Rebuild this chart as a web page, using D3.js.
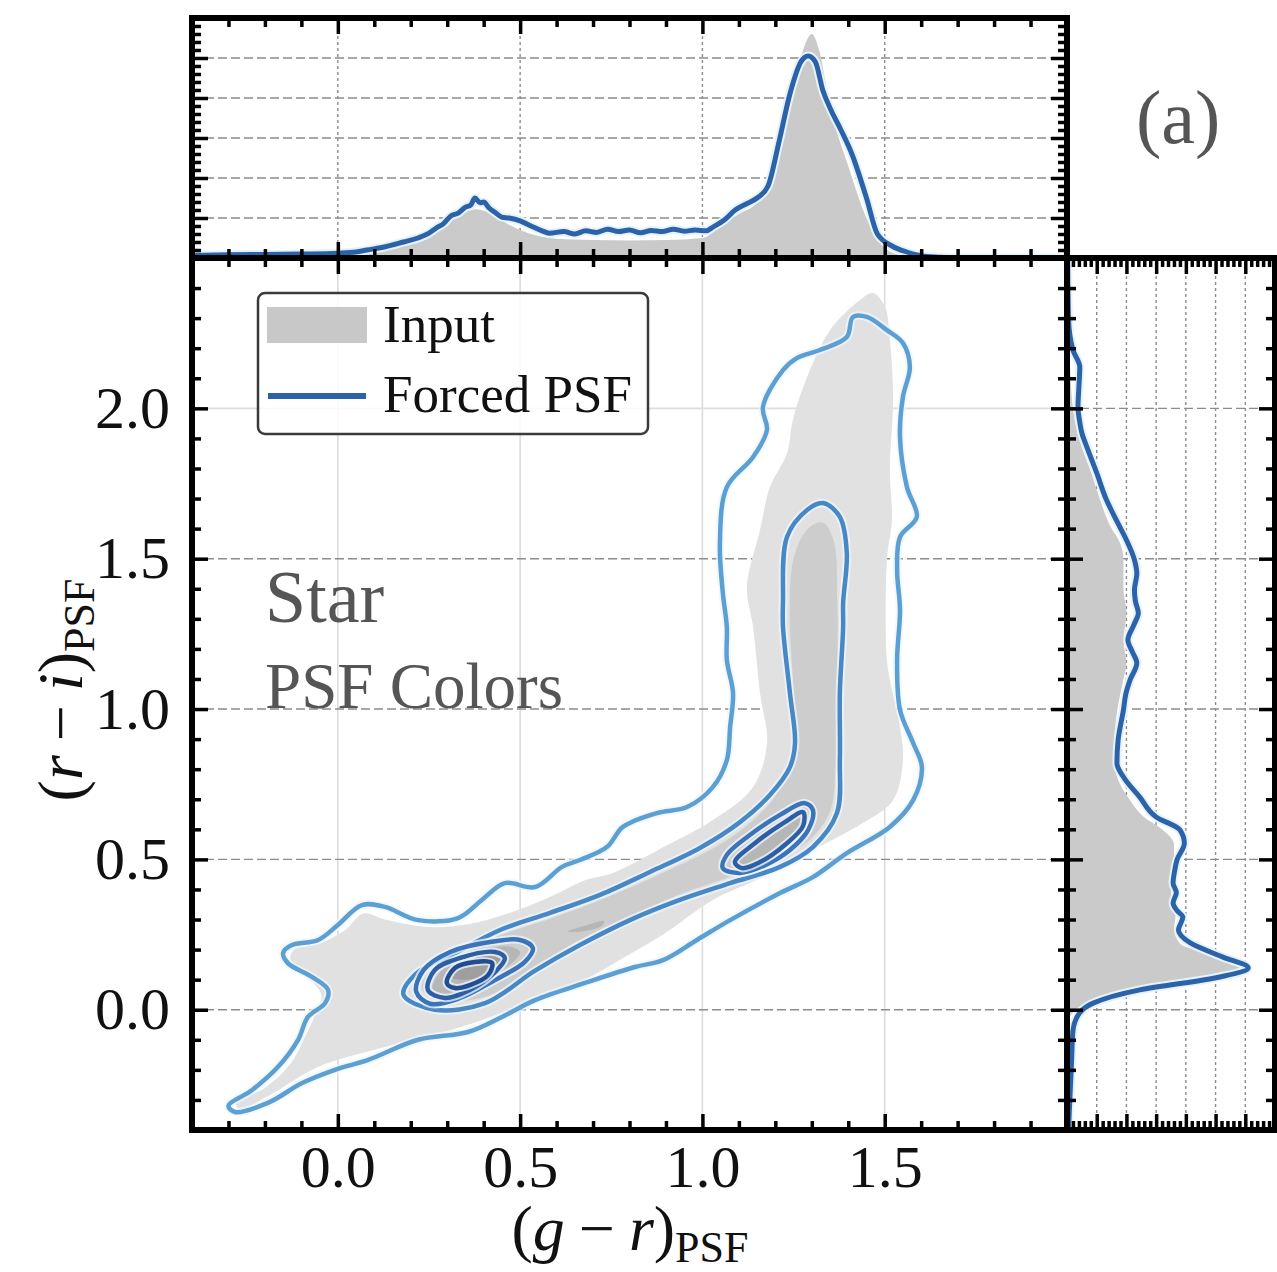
<!DOCTYPE html>
<html>
<head>
<meta charset="utf-8">
<script src="https://cdn.jsdelivr.net/npm/d3@7"></script>
<style>
  body { margin: 0; background: #fff; }
  svg { display: block; }
</style>
</head>
<body>
<div id="chart"></div>
<script>
// ---- data ----
var xMajor = [0.0, 0.5, 1.0, 1.5]
var yMajor = [0.0, 0.5, 1.0, 1.5, 2.0]
var xTickLabels = ["0.0", "0.5", "1.0", "1.5"]
var yTickLabels = ["0.0", "0.5", "1.0", "1.5", "2.0"]
var legendLabels = ["Input", "Forced PSF"]

// top marginal: (g-r) distribution
var topInputGr = [-0.4, -0.3, -0.2, -0.1, 0.0, 0.05, 0.1, 0.15, 0.2, 0.25, 0.3, 0.35, 0.38, 0.42, 0.46, 0.5, 0.55, 0.6, 0.7, 0.8, 0.9, 1.0, 1.05, 1.1, 1.15, 1.2, 1.25, 1.28, 1.3, 1.32, 1.35, 1.4, 1.45, 1.5, 1.55, 1.6, 1.7, 2.0]
var topInputDens = [0.01, 0.02, 0.04, 0.06, 0.08, 0.12, 0.18, 0.3, 0.45, 0.68, 0.95, 1.15, 1.22, 1.1, 0.88, 0.7, 0.55, 0.48, 0.45, 0.44, 0.45, 0.5, 0.8, 1.1, 1.4, 2.6, 4.3, 5.3, 5.6, 5.2, 3.8, 2.3, 1.0, 0.25, 0.06, 0.02, 0.0, 0.0]
var topForcedGr = [-0.4, -0.3, -0.2, -0.1, 0.0, 0.05, 0.08, 0.13, 0.18, 0.22, 0.25, 0.27, 0.29, 0.31, 0.33, 0.35, 0.365, 0.376, 0.39, 0.40, 0.415, 0.43, 0.45, 0.47, 0.5, 0.53, 0.56, 0.58, 0.62, 0.65, 0.68, 0.71, 0.74, 0.77, 0.8, 0.83, 0.86, 0.89, 0.92, 0.95, 0.98, 1.01, 1.03, 1.06, 1.09, 1.12, 1.15, 1.18, 1.21, 1.24, 1.27, 1.29, 1.31, 1.33, 1.35, 1.38, 1.41, 1.45, 1.48, 1.52, 1.56, 1.6, 1.65, 1.7, 2.0]
var topForcedDens = [0.06, 0.08, 0.09, 0.1, 0.12, 0.15, 0.2, 0.28, 0.4, 0.5, 0.62, 0.75, 0.86, 1.05, 1.12, 1.27, 1.33, 1.5, 1.38, 1.4, 1.25, 1.15, 1.02, 1.0, 0.93, 0.8, 0.68, 0.62, 0.66, 0.6, 0.68, 0.64, 0.72, 0.66, 0.7, 0.63, 0.69, 0.66, 0.72, 0.67, 0.7, 0.68, 0.78, 0.95, 1.2, 1.35, 1.5, 1.8, 2.9, 4.1, 4.9, 5.05, 4.9, 4.2, 3.75, 3.2, 2.6, 1.5, 0.6, 0.3, 0.15, 0.06, 0.02, 0.0, 0.0]

// right marginal: (r-i) distribution
var rightInputRi = [-0.4, -0.05, 0.0, 0.05, 0.1, 0.14, 0.18, 0.22, 0.27, 0.31, 0.36, 0.42, 0.5, 0.55, 0.6, 0.64, 0.7, 0.77, 0.82, 0.9, 1.0, 1.1, 1.15, 1.23, 1.32, 1.4, 1.5, 1.56, 1.6, 1.7, 1.79, 1.87, 1.92, 2.0, 2.14, 2.2, 2.3, 2.5]
var rightInputDens = [0.0, 0.0, 0.3, 1.5, 4.2, 5.9, 4.9, 3.8, 3.6, 3.65, 3.5, 3.5, 3.6, 3.6, 3.2, 2.6, 2.1, 1.7, 1.6, 1.6, 1.7, 1.9, 2.0, 1.9, 2.0, 1.9, 1.9, 1.75, 1.5, 1.1, 0.8, 0.5, 0.35, 0.2, 0.1, 0.05, 0.02, 0.0]
var rightForcedRi = [-0.4, -0.29, -0.18, -0.07, -0.01, 0.022, 0.066, 0.109, 0.139, 0.175, 0.222, 0.265, 0.308, 0.33, 0.355, 0.39, 0.421, 0.46, 0.498, 0.554, 0.598, 0.641, 0.707, 0.774, 0.82, 0.897, 0.997, 1.05, 1.096, 1.153, 1.19, 1.23, 1.28, 1.319, 1.36, 1.396, 1.45, 1.496, 1.562, 1.605, 1.65, 1.695, 1.785, 1.871, 1.918, 1.96, 2.004, 2.07, 2.137, 2.194, 2.3, 2.5]
var rightForcedDens = [0.05, 0.1, 0.15, 0.2, 0.43, 0.88, 2.45, 5.15, 6.1, 5.25, 4.15, 3.75, 3.9, 3.7, 3.57, 3.68, 3.57, 3.62, 3.7, 3.95, 3.8, 3.0, 2.45, 1.9, 1.68, 1.72, 1.9, 1.98, 2.12, 2.35, 2.2, 2.05, 2.25, 2.4, 2.3, 2.27, 2.35, 2.27, 2.0, 1.78, 1.55, 1.33, 1.0, 0.67, 0.5, 0.42, 0.37, 0.4, 0.43, 0.2, 0.05, 0.02]

// main panel: contour outlines, [g-r, r-i]
var inputLevel1 = [[-0.28,-0.31],[-0.2,-0.26],[-0.13,-0.18],[-0.09,-0.09],[-0.06,-0.01],[-0.045,0.05],[-0.085,0.11],[-0.13,0.165],[-0.12,0.2],[-0.05,0.22],[0.02,0.265],[0.07,0.32],[0.13,0.3],[0.25,0.275],[0.36,0.285],[0.49,0.33],[0.59,0.38],[0.678,0.431],[0.755,0.455],[0.892,0.54],[1.029,0.631],[1.139,0.741],[1.177,0.887],[1.158,1.053],[1.139,1.273],[1.122,1.406],[1.158,1.595],[1.185,1.738],[1.232,1.851],[1.248,1.961],[1.287,2.104],[1.35,2.26],[1.432,2.36],[1.468,2.384],[1.5,2.34],[1.514,2.23],[1.523,2.03],[1.514,1.795],[1.52,1.63],[1.506,1.496],[1.506,1.163],[1.542,0.94],[1.55,0.83],[1.523,0.697],[1.44,0.621],[1.303,0.531],[1.166,0.441],[1.029,0.365],[0.892,0.25],[0.78,0.17],[0.678,0.1],[0.494,0.009],[0.313,-0.067],[0.129,-0.124],[-0.054,-0.19],[-0.186,-0.284],[-0.27,-0.33]]
var inputLevel2 = [[0.23,0.07],[0.27,0.15],[0.35,0.2],[0.45,0.25],[0.6,0.31],[0.75,0.38],[0.9,0.46],[1.02,0.53],[1.12,0.61],[1.2,0.71],[1.25,0.83],[1.25,1.05],[1.24,1.3],[1.25,1.5],[1.29,1.6],[1.33,1.62],[1.36,1.56],[1.37,1.35],[1.37,1.05],[1.365,0.8],[1.35,0.66],[1.29,0.56],[1.2,0.5],[1.07,0.44],[0.93,0.38],[0.8,0.31],[0.66,0.23],[0.54,0.14],[0.42,0.05],[0.3,0.03]]
var inputLevel3 = [
  [[0.26,0.07],[0.3,0.15],[0.38,0.19],[0.47,0.21],[0.5,0.19],[0.45,0.13],[0.37,0.07],[0.3,0.05]],
  [[1.08,0.5],[1.15,0.57],[1.22,0.63],[1.28,0.67],[1.29,0.63],[1.24,0.56],[1.17,0.5],[1.11,0.47]],
  [[0.63,0.26],[0.68,0.28],[0.73,0.295],[0.725,0.28],[0.67,0.26]]
]
var inputLevel4 = [[0.31,0.11],[0.35,0.16],[0.42,0.18],[0.45,0.165],[0.41,0.12],[0.35,0.1]]

var forcedLevel1 = [[-0.30,-0.32],[-0.235,-0.267],[-0.164,-0.19],[-0.109,-0.10],[-0.082,-0.024],[-0.035,0.022],[-0.027,0.066],[-0.071,0.109],[-0.137,0.155],[-0.15,0.189],[-0.126,0.215],[-0.054,0.232],[0.0,0.282],[0.066,0.348],[0.129,0.342],[0.22,0.298],[0.33,0.305],[0.395,0.365],[0.458,0.421],[0.541,0.408],[0.615,0.475],[0.664,0.498],[0.738,0.541],[0.782,0.608],[0.875,0.654],[0.958,0.674],[1.029,0.741],[1.067,0.83],[1.076,0.94],[1.084,1.053],[1.067,1.163],[1.067,1.273],[1.056,1.386],[1.048,1.552],[1.067,1.738],[1.139,1.838],[1.177,1.928],[1.166,2.004],[1.221,2.127],[1.259,2.167],[1.322,2.194],[1.396,2.237],[1.413,2.304],[1.451,2.304],[1.506,2.26],[1.55,2.217],[1.569,2.137],[1.55,2.038],[1.542,1.905],[1.561,1.738],[1.588,1.639],[1.542,1.572],[1.534,1.462],[1.542,1.329],[1.534,1.163],[1.542,0.997],[1.578,0.887],[1.602,0.807],[1.578,0.697],[1.514,0.608],[1.396,0.521],[1.303,0.441],[1.213,0.388],[1.076,0.298],[0.985,0.232],[0.892,0.165],[0.815,0.142],[0.678,0.089],[0.541,0.032],[0.45,-0.024],[0.357,-0.074],[0.22,-0.10],[0.083,-0.167],[-0.008,-0.2],[-0.098,-0.244],[-0.192,-0.31],[-0.282,-0.34]]
var forcedLevel2 = [[0.18,0.05],[0.215,0.12],[0.313,0.182],[0.445,0.265],[0.582,0.322],[0.719,0.382],[0.856,0.458],[0.993,0.538],[1.103,0.624],[1.185,0.714],[1.24,0.807],[1.254,0.887],[1.24,1.053],[1.221,1.273],[1.221,1.353],[1.232,1.572],[1.287,1.662],[1.331,1.685],[1.377,1.639],[1.396,1.519],[1.386,1.353],[1.386,1.273],[1.377,1.053],[1.377,0.83],[1.369,0.654],[1.303,0.541],[1.213,0.475],[1.076,0.421],[0.938,0.365],[0.801,0.298],[0.664,0.215],[0.541,0.13],[0.404,0.022],[0.266,0.0]]
var forcedLevel3 = [
  [[0.215,0.06],[0.235,0.132],[0.308,0.192],[0.417,0.225],[0.5,0.232],[0.535,0.205],[0.513,0.159],[0.431,0.099],[0.335,0.039],[0.253,0.02]],
  [[1.056,0.471],[1.067,0.515],[1.13,0.581],[1.213,0.648],[1.281,0.687],[1.303,0.664],[1.29,0.598],[1.24,0.531],[1.172,0.481],[1.103,0.455]]
]
var forcedLevel4 = [
  [[0.247,0.066],[0.266,0.132],[0.335,0.172],[0.431,0.192],[0.458,0.172],[0.431,0.125],[0.362,0.066],[0.294,0.039]],
  [[1.089,0.491],[1.144,0.554],[1.226,0.624],[1.276,0.657],[1.276,0.611],[1.226,0.548],[1.158,0.491],[1.108,0.471]]
]
var forcedLevel5 = [[0.299,0.089],[0.321,0.139],[0.376,0.159],[0.423,0.155],[0.412,0.115],[0.362,0.082],[0.321,0.072]]

// ---- layout ----
var W = 1277, H = 1272
var main = { left: 192, right: 1067, top: 258, bottom: 1130 }
var topP = { top: 18, bottom: 258 }
var rightP = { left: 1067, right: 1275 }
var serif = "'Liberation Serif', 'Times New Roman', serif"
var blue = "#2c63a8"

var svg = d3.select("#chart").append("svg")
    .attr("width", W)
    .attr("height", H)

var x = d3.scaleLinear().domain([-0.4, 2.0]).range([main.left, main.right])
var y = d3.scaleLinear().domain([-0.4, 2.5]).range([main.bottom, main.top])
var topY = d3.scaleLinear().domain([0, 6]).range([topP.bottom, topP.top])
var rightX = d3.scaleLinear().domain([0, 7]).range([rightP.left, rightP.right])

var defs = svg.append("defs")
function clip(id, x0, y0, w, h) {
    defs.append("clipPath").attr("id", id)
        .append("rect").attr("x", x0).attr("y", y0).attr("width", w).attr("height", h)
}
clip("clip-main", main.left, main.top, main.right - main.left, main.bottom - main.top)
clip("clip-top", main.left, topP.top, main.right - main.left, topP.bottom - topP.top)
clip("clip-right", rightP.left, main.top, rightP.right - rightP.left, main.bottom - main.top)

// ---- grid lines ----
var darkGrid = { stroke: "#8c8c8c", width: 1.4, dash: "9,4" }
var grid = svg.append("g")

// main: light verticals, dashed horizontals (2.0 drawn light)
grid.selectAll(".vmain").data(xMajor).enter().append("line")
    .attr("x1", function(d){ return x(d) }).attr("x2", function(d){ return x(d) })
    .attr("y1", main.top).attr("y2", main.bottom)
    .attr("stroke", "#dcdcdc").attr("stroke-width", 1.6)
grid.selectAll(".hmain").data(yMajor).enter().append("line")
    .attr("x1", main.left).attr("x2", main.right)
    .attr("y1", function(d){ return y(d) }).attr("y2", function(d){ return y(d) })
    .attr("stroke", function(d){ return d === 2.0 ? "#dcdcdc" : darkGrid.stroke })
    .attr("stroke-width", function(d){ return d === 2.0 ? 1.6 : darkGrid.width })
    .attr("stroke-dasharray", function(d){ return d === 2.0 ? null : darkGrid.dash })

// top panel
grid.selectAll(".vtop").data(xMajor).enter().append("line")
    .attr("x1", function(d){ return x(d) }).attr("x2", function(d){ return x(d) })
    .attr("y1", topP.top).attr("y2", topP.bottom)
    .attr("stroke", darkGrid.stroke).attr("stroke-width", darkGrid.width).attr("stroke-dasharray", "3,3")
grid.selectAll(".htop").data([1, 2, 3, 4, 5]).enter().append("line")
    .attr("x1", main.left).attr("x2", main.right)
    .attr("y1", function(d){ return topY(d) }).attr("y2", function(d){ return topY(d) })
    .attr("stroke", darkGrid.stroke).attr("stroke-width", darkGrid.width).attr("stroke-dasharray", darkGrid.dash)

// right panel
grid.selectAll(".vright").data([1, 2, 3, 4, 5, 6]).enter().append("line")
    .attr("x1", function(d){ return rightX(d) }).attr("x2", function(d){ return rightX(d) })
    .attr("y1", main.top).attr("y2", main.bottom)
    .attr("stroke", darkGrid.stroke).attr("stroke-width", darkGrid.width).attr("stroke-dasharray", "3,3")
grid.selectAll(".hright").data(yMajor).enter().append("line")
    .attr("x1", rightP.left).attr("x2", rightP.right)
    .attr("y1", function(d){ return y(d) }).attr("y2", function(d){ return y(d) })
    .attr("stroke", darkGrid.stroke).attr("stroke-width", darkGrid.width).attr("stroke-dasharray", darkGrid.dash)

// ---- main panel contours ----
var contourLine = d3.line()
    .x(function(d){ return x(d[0]) })
    .y(function(d){ return y(d[1]) })
    .curve(d3.curveCatmullRomClosed.alpha(0.5))

var mainG = svg.append("g").attr("clip-path", "url(#clip-main)")

var fills = [
    { shapes: [inputLevel1], color: "#e1e1e1" },
    { shapes: [inputLevel2], color: "#cdcdcd" },
    { shapes: inputLevel3, color: "#b6b6b6" },
    { shapes: [inputLevel4], color: "#9f9f9f" }
]
fills.forEach(function(f){
    mainG.selectAll(null).data(f.shapes).enter().append("path")
        .attr("d", contourLine)
        .attr("fill", f.color)
        .attr("stroke", "none")
})

var lines = [
    { shapes: [forcedLevel1], color: "#5b9fd3" },
    { shapes: [forcedLevel2], color: "#4888c5" },
    { shapes: forcedLevel3, color: "#3b74b8" },
    { shapes: forcedLevel4, color: "#2d5fa5" },
    { shapes: [forcedLevel5], color: "#214d92" }
]
lines.forEach(function(l){
    // pale rim round each line, as in the picture
    mainG.selectAll(null).data(l.shapes).enter().append("path")
        .attr("d", contourLine)
        .attr("fill", "none")
        .attr("stroke", "#eef6fd")
        .attr("stroke-width", 8.5)
        .attr("stroke-opacity", 0.75)
    mainG.selectAll(null).data(l.shapes).enter().append("path")
        .attr("d", contourLine)
        .attr("fill", "none")
        .attr("stroke", l.color)
        .attr("stroke-width", 4.5)
        .attr("stroke-linejoin", "round")
})

// ---- top marginal ----
var topG = svg.append("g").attr("clip-path", "url(#clip-top)")
var topInput = topInputGr.map(function(d, i){ return [d, topInputDens[i]] })
var topForced = topForcedGr.map(function(d, i){ return [d, topForcedDens[i]] })

topG.append("path").datum(topInput)
    .attr("d", d3.area()
        .x(function(d){ return x(d[0]) })
        .y0(topY(0))
        .y1(function(d){ return topY(d[1]) })
        .curve(d3.curveMonotoneX))
    .attr("fill", "#cacaca")
var topLine = d3.line()
    .x(function(d){ return x(d[0]) })
    .y(function(d){ return topY(d[1]) })
    .curve(d3.curveMonotoneX)
topG.append("path").datum(topForced)
    .attr("d", topLine)
    .attr("fill", "none").attr("stroke", "#e6f3fc").attr("stroke-width", 9)
topG.append("path").datum(topForced)
    .attr("d", topLine)
    .attr("fill", "none").attr("stroke", blue).attr("stroke-width", 5)
    .attr("stroke-linejoin", "round")

// ---- right marginal ----
var rightG = svg.append("g").attr("clip-path", "url(#clip-right)")
var rightInput = rightInputRi.map(function(d, i){ return [d, rightInputDens[i]] })
var rightForced = rightForcedRi.map(function(d, i){ return [d, rightForcedDens[i]] })

rightG.append("path").datum(rightInput)
    .attr("d", d3.area()
        .y(function(d){ return y(d[0]) })
        .x0(rightX(0))
        .x1(function(d){ return rightX(d[1]) })
        .curve(d3.curveMonotoneY))
    .attr("fill", "#cacaca")
var rightLine = d3.line()
    .y(function(d){ return y(d[0]) })
    .x(function(d){ return rightX(d[1]) })
    .curve(d3.curveMonotoneY)
rightG.append("path").datum(rightForced)
    .attr("d", rightLine)
    .attr("fill", "none").attr("stroke", "#e6f3fc").attr("stroke-width", 9)
rightG.append("path").datum(rightForced)
    .attr("d", rightLine)
    .attr("fill", "none").attr("stroke", blue).attr("stroke-width", 5)
    .attr("stroke-linejoin", "round")

// ---- legend ----
var legend = svg.append("g")
legend.append("rect")
    .attr("x", 258).attr("y", 293).attr("width", 390).attr("height", 141)
    .attr("rx", 7)
    .attr("fill", "#fff").attr("fill-opacity", 0.85)
    .attr("stroke", "#3a3a3a").attr("stroke-width", 2.5)
legend.append("rect")
    .attr("x", 267).attr("y", 307).attr("width", 100).attr("height", 36)
    .attr("fill", "#c8c8c8")
legend.append("line")
    .attr("x1", 268).attr("x2", 366).attr("y1", 396).attr("y2", 396)
    .attr("stroke", blue).attr("stroke-width", 6)
legend.selectAll("text").data(legendLabels).enter().append("text")
    .attr("x", 383)
    .attr("y", function(d, i){ return i === 0 ? 342 : 412 })
    .attr("font-family", serif).attr("font-size", 53).attr("fill", "#111")
    .text(function(d){ return d })

// ---- annotations ----
svg.append("text").attr("x", 265).attr("y", 622)
    .attr("font-family", serif).attr("font-size", 74).attr("fill", "#555")
    .text("Star")
svg.append("text").attr("x", 265).attr("y", 708)
    .attr("font-family", serif).attr("font-size", 65).attr("fill", "#555")
    .text("PSF Colors")
svg.append("text").attr("x", 1136).attr("y", 143)
    .attr("font-family", serif).attr("font-size", 76).attr("fill", "#555")
    .text("(a)")

// ---- ticks ----
var majorLen = 16, minorLen = 9
function ticks(axisFn, scale, values, len, translate, labels, pad) {
    var ax = axisFn(scale).tickValues(values).tickSize(-len)
    if (labels) {
        ax.tickPadding(pad).tickFormat(function(d, i){ return labels[i] })
    } else {
        ax.tickFormat("")
    }
    var g = svg.append("g").attr("transform", translate).call(ax)
    g.select(".domain").remove()
    g.selectAll("line").attr("stroke", "#000").attr("stroke-width", 3.5)
    g.selectAll("text").attr("font-family", serif).attr("font-size", 60).attr("fill", "#111")
    return g
}
function minorOf(scale, count, majors) {
    return scale.ticks(count).filter(function(t){
        return !majors.some(function(m){ return Math.abs(m - t) < 1e-6 })
    })
}
var xMinor = minorOf(x, 24, xMajor)
var yMinor = minorOf(y, 29, yMajor)
var topMajor = [0, 1, 2, 3, 4, 5, 6]
var topMinor = minorOf(topY, 30, topMajor)
var rightMajor = [0, 1, 2, 3, 4, 5, 6, 7]
var rightMinor = minorOf(rightX, 35, rightMajor)

// main panel
ticks(d3.axisBottom, x, xMajor, majorLen, "translate(0," + main.bottom + ")", xTickLabels, 14)
ticks(d3.axisBottom, x, xMinor, minorLen, "translate(0," + main.bottom + ")")
ticks(d3.axisTop, x, xMajor, majorLen, "translate(0," + main.top + ")")
ticks(d3.axisTop, x, xMinor, minorLen, "translate(0," + main.top + ")")
ticks(d3.axisLeft, y, yMajor, majorLen, "translate(" + main.left + ",0)", yTickLabels, 22)
ticks(d3.axisLeft, y, yMinor, minorLen, "translate(" + main.left + ",0)")
ticks(d3.axisRight, y, yMajor, majorLen, "translate(" + main.right + ",0)")
ticks(d3.axisRight, y, yMinor, minorLen, "translate(" + main.right + ",0)")

// top panel
ticks(d3.axisTop, x, xMajor, majorLen, "translate(0," + topP.top + ")")
ticks(d3.axisTop, x, xMinor, minorLen, "translate(0," + topP.top + ")")
ticks(d3.axisBottom, x, xMajor, majorLen, "translate(0," + topP.bottom + ")")
ticks(d3.axisBottom, x, xMinor, minorLen, "translate(0," + topP.bottom + ")")
ticks(d3.axisLeft, topY, topMajor, majorLen, "translate(" + main.left + ",0)")
ticks(d3.axisLeft, topY, topMinor, minorLen, "translate(" + main.left + ",0)")
ticks(d3.axisRight, topY, topMajor, majorLen, "translate(" + main.right + ",0)")
ticks(d3.axisRight, topY, topMinor, minorLen, "translate(" + main.right + ",0)")

// right panel
ticks(d3.axisTop, rightX, rightMajor, majorLen, "translate(0," + main.top + ")")
ticks(d3.axisTop, rightX, rightMinor, minorLen, "translate(0," + main.top + ")")
ticks(d3.axisBottom, rightX, rightMajor, majorLen, "translate(0," + main.bottom + ")")
ticks(d3.axisBottom, rightX, rightMinor, minorLen, "translate(0," + main.bottom + ")")
ticks(d3.axisLeft, y, yMajor, majorLen, "translate(" + rightP.left + ",0)")
ticks(d3.axisLeft, y, yMinor, minorLen, "translate(" + rightP.left + ",0)")
ticks(d3.axisRight, y, yMajor, majorLen, "translate(" + rightP.right + ",0)")
ticks(d3.axisRight, y, yMinor, minorLen, "translate(" + rightP.right + ",0)")

// ---- frames ----
var frames = [
    [main.left, main.top, main.right - main.left, main.bottom - main.top],
    [main.left, topP.top, main.right - main.left, topP.bottom - topP.top],
    [rightP.left, main.top, rightP.right - rightP.left, main.bottom - main.top]
]
svg.selectAll(".frame").data(frames).enter().append("rect")
    .attr("x", function(d){ return d[0] }).attr("y", function(d){ return d[1] })
    .attr("width", function(d){ return d[2] }).attr("height", function(d){ return d[3] })
    .attr("fill", "none").attr("stroke", "#000").attr("stroke-width", 6)

// ---- axis labels ----
var xl = svg.append("text")
    .attr("x", 630).attr("y", 1250)
    .attr("text-anchor", "middle")
    .attr("font-family", serif).attr("font-size", 64).attr("fill", "#111")
xl.append("tspan").text("(")
xl.append("tspan").attr("font-style", "italic").text("g")
xl.append("tspan").attr("dx", 14).text("\u2212")
xl.append("tspan").attr("dx", 14).attr("font-style", "italic").text("r")
xl.append("tspan").text(")")
xl.append("tspan").attr("font-size", 44).attr("dy", 12).text("PSF")

var yl = svg.append("text")
    .attr("transform", "translate(82,690) rotate(-90)")
    .attr("text-anchor", "middle")
    .attr("font-family", serif).attr("font-size", 64).attr("fill", "#111")
yl.append("tspan").text("(")
yl.append("tspan").attr("font-style", "italic").text("r")
yl.append("tspan").attr("dx", 14).text("\u2212")
yl.append("tspan").attr("dx", 14).attr("font-style", "italic").text("i")
yl.append("tspan").text(")")
yl.append("tspan").attr("font-size", 44).attr("dy", 12).text("PSF")
</script>
</body>
</html>
